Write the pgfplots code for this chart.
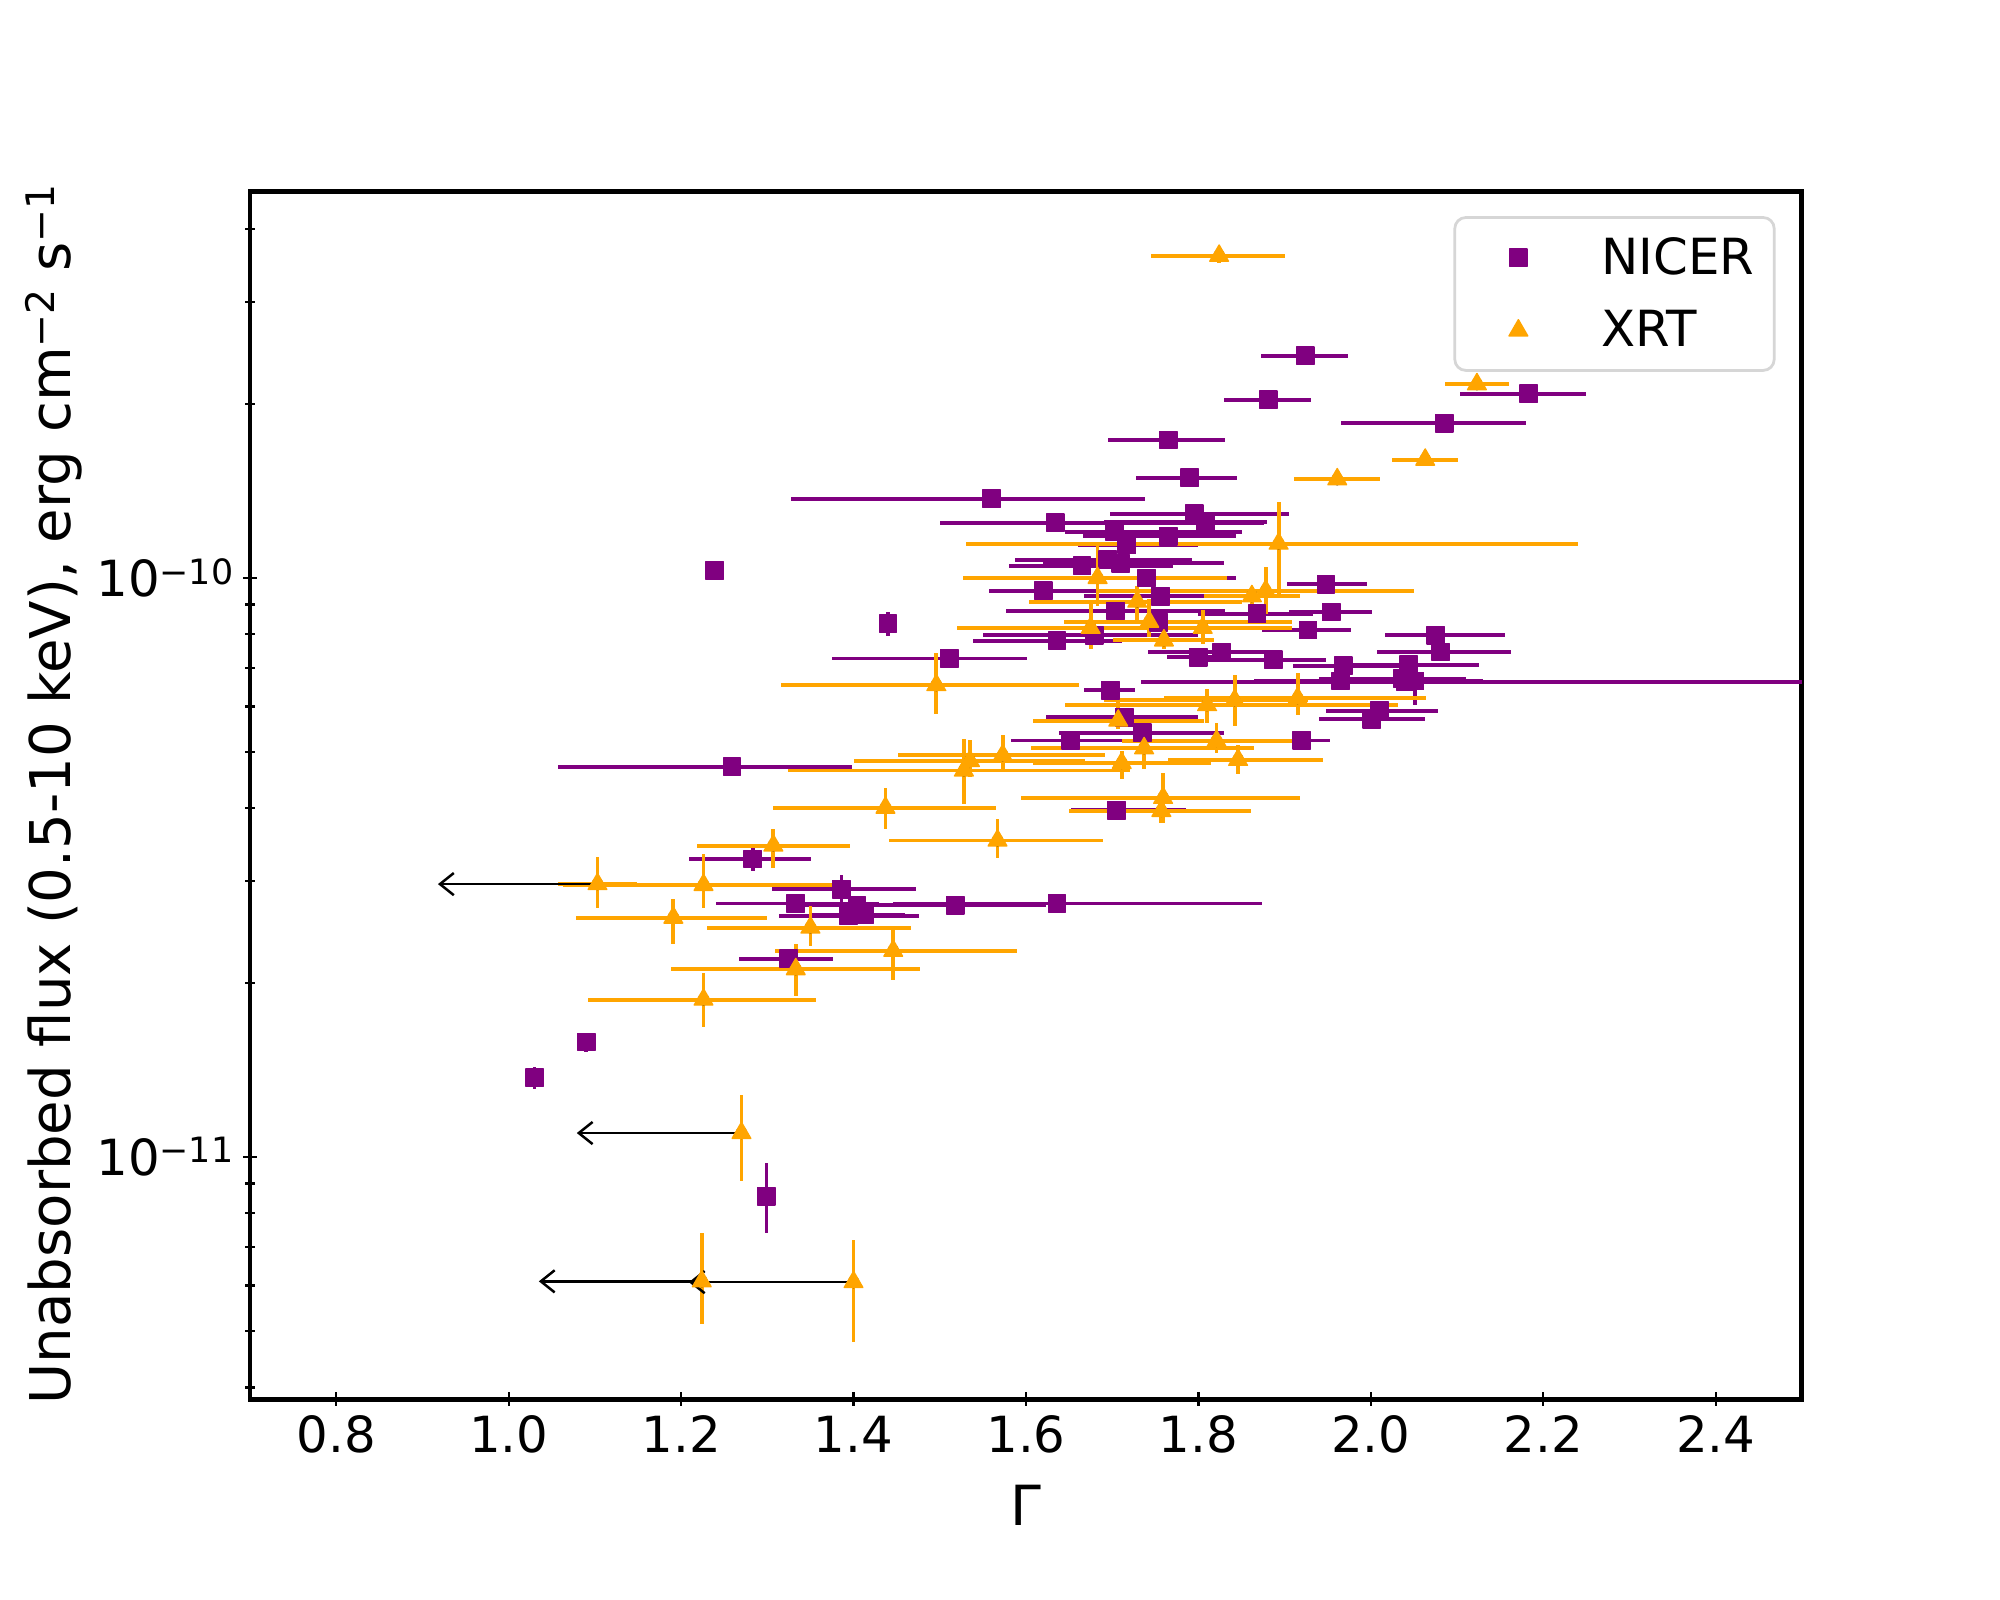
\documentclass[border=0pt]{standalone}
\usepackage{fontspec}
\setmainfont{DejaVu Sans}
\usepackage{pgfplots}
\pgfplotsset{compat=1.18}
\usepackage{pgfplotstable}
\usetikzlibrary{arrows.meta}
\definecolor{mpurple}{HTML}{800080}
\definecolor{morange}{HTML}{FFA500}
\newcommand{\sups}[1]{\raisebox{4.6pt}{\fontsize{12.6}{12.6}\selectfont #1}}
\newcommand{\lsups}[1]{\raisebox{5.7pt}{\fontsize{14.2}{14.2}\selectfont #1}}

\pgfplotstableread{
x y xm xp ym yp
1.239 1.03e-10 0.005 0.005 0.03e-10 0.03e-10
1.560 1.37e-10 0.232 0.178 0.04e-10 0.04e-10
1.765 1.73e-10 0.070 0.066 0.05e-10 0.05e-10
1.790 1.49e-10 0.062 0.055 0.045e-10 0.045e-10
1.881 2.03e-10 0.051 0.050 0.06e-10 0.06e-10
1.924 2.42e-10 0.052 0.050 0.07e-10 0.07e-10
2.085 1.85e-10 0.120 0.095 0.055e-10 0.055e-10
2.183 2.08e-10 0.080 0.066 0.06e-10 0.06e-10
1.634 1.245e-10 0.134 0.242 0.04e-10 0.04e-10
1.795 1.29e-10 0.097 0.110 0.04e-10 0.04e-10
1.808 1.25e-10 0.118 0.072 0.04e-10 0.04e-10
1.765 1.18e-10 0.099 0.079 0.035e-10 0.035e-10
1.703 1.20e-10 0.058 0.147 0.035e-10 0.035e-10
1.717 1.14e-10 0.057 0.083 0.035e-10 0.035e-10
1.695 1.075e-10 0.108 0.098 0.03e-10 0.03e-10
1.665 1.05e-10 0.085 0.105 0.03e-10 0.03e-10
1.710 1.06e-10 0.090 0.120 0.03e-10 0.03e-10
1.740 1.00e-10 0.095 0.104 0.03e-10 0.03e-10
1.620 9.5e-11 0.063 0.126 0.3e-11 0.3e-11
1.756 9.3e-11 0.089 0.092 0.3e-11 0.3e-11
1.948 9.75e-11 0.045 0.048 0.3e-11 0.3e-11
1.704 8.77e-11 0.127 0.127 0.26e-11 0.26e-11
1.754 8.38e-11 0.091 0.069 0.25e-11 0.25e-11
1.868 8.67e-11 0.068 0.065 0.26e-11 0.26e-11
1.954 8.73e-11 0.049 0.047 0.26e-11 0.26e-11
1.927 8.13e-11 0.053 0.050 0.24e-11 0.24e-11
1.679 7.96e-11 0.129 0.121 0.24e-11 0.24e-11
1.636 7.79e-11 0.098 0.075 0.23e-11 0.23e-11
2.075 7.96e-11 0.059 0.080 0.24e-11 0.24e-11
2.081 7.45e-11 0.074 0.081 0.22e-11 0.22e-11
1.440 8.34e-11 0.004 0.004 0.40e-11 0.40e-11
1.511 7.26e-11 0.136 0.090 0.22e-11 0.22e-11
1.800 7.30e-11 0.037 0.022 0.22e-11 0.22e-11
1.827 7.45e-11 0.086 0.062 0.22e-11 0.22e-11
1.887 7.22e-11 0.079 0.061 0.22e-11 0.22e-11
1.968 7.05e-11 0.058 0.072 0.21e-11 0.21e-11
2.044 7.08e-11 0.074 0.081 0.21e-11 0.21e-11
1.965 6.64e-11 0.100 0.103 0.20e-11 0.20e-11
2.036 6.70e-11 0.096 0.074 0.20e-11 0.20e-11
2.051 6.64e-11 0.071 0.079 0.60e-11 0.20e-11
1.698 6.40e-11 0.031 0.028 0.19e-11 0.19e-11
2.040 6.62e-11 0.307 0.610 0.20e-11 0.20e-11
2.010 5.90e-11 0.062 0.068 0.18e-11 0.18e-11
2.001 5.70e-11 0.061 0.062 0.17e-11 0.17e-11
1.714 5.75e-11 0.091 0.086 0.17e-11 0.17e-11
1.652 5.24e-11 0.069 0.141 0.16e-11 0.16e-11
1.735 5.40e-11 0.097 0.095 0.25e-11 0.25e-11
1.920 5.24e-11 0.053 0.033 0.16e-11 0.16e-11
1.705 3.97e-11 0.053 0.080 0.12e-11 0.12e-11
1.259 4.72e-11 0.202 0.139 0.14e-11 0.14e-11
1.283 3.27e-11 0.074 0.068 0.15e-11 0.15e-11
1.386 2.90e-11 0.081 0.086 0.17e-11 0.17e-11
1.333 2.74e-11 0.093 0.097 0.08e-11 0.08e-11
1.404 2.72e-11 0.080 0.100 0.08e-11 0.08e-11
1.394 2.61e-11 0.081 0.082 0.08e-11 0.08e-11
1.413 2.62e-11 0.063 0.047 0.08e-11 0.08e-11
1.518 2.72e-11 0.161 0.105 0.08e-11 0.08e-11
1.636 2.74e-11 0.190 0.238 0.10e-11 0.10e-11
1.325 2.20e-11 0.058 0.051 0.07e-11 0.07e-11
1.090 1.58e-11 0.005 0.005 0.06e-11 0.06e-11
1.030 1.37e-11 0.005 0.005 0.06e-11 0.06e-11
1.299 8.55e-12 0.002 0.002 1.15e-12 1.20e-12
}\nicer

\pgfplotstableread{
x y xm xp ym yp
1.824 3.60e-10 0.079 0.076 0.10e-10 0.10e-10
2.123 2.16e-10 0.037 0.037 0.05e-10 0.05e-10
2.063 1.60e-10 0.039 0.038 0.04e-10 0.04e-10
1.961 1.48e-10 0.050 0.050 0.035e-10 0.035e-10
1.893 1.146e-10 0.363 0.347 0.219e-10 0.209e-10
1.683 1.00e-10 0.156 0.150 0.105e-10 0.153e-10
1.878 9.5e-11 0.195 0.172 0.83e-11 0.95e-11
1.862 9.3e-11 0.056 0.056 0.3e-11 0.3e-11
1.675 8.2e-11 0.155 0.165 0.65e-11 0.8e-11
1.805 8.2e-11 0.108 0.104 0.5e-11 0.6e-11
1.743 8.4e-11 0.099 0.166 0.5e-11 0.8e-11
1.729 9.1e-11 0.125 0.121 0.7e-11 0.6e-11
1.760 7.8e-11 0.059 0.058 0.25e-11 0.25e-11
1.496 6.53e-11 0.180 0.166 0.72e-11 0.88e-11
1.810 6.03e-11 0.165 0.221 0.42e-11 0.39e-11
1.842 6.15e-11 0.151 0.085 0.60e-11 0.66e-11
1.915 6.2e-11 0.155 0.149 0.40e-11 0.64e-11
1.707 5.67e-11 0.099 0.099 0.19e-11 0.43e-11
1.821 5.23e-11 0.110 0.105 0.24e-11 0.38e-11
1.737 5.08e-11 0.131 0.127 0.40e-11 0.32e-11
1.846 4.85e-11 0.081 0.099 0.26e-11 0.29e-11
1.711 4.79e-11 0.103 0.103 0.29e-11 0.24e-11
1.573 4.94e-11 0.122 0.119 0.30e-11 0.42e-11
1.535 4.83e-11 0.135 0.133 0.30e-11 0.42e-11
1.528 4.65e-11 0.204 0.193 0.58e-11 0.62e-11
1.759 4.17e-11 0.165 0.159 0.40e-11 0.43e-11
1.757 3.96e-11 0.107 0.104 0.19e-11 0.17e-11
1.437 4.01e-11 0.130 0.128 0.32e-11 0.33e-11
1.567 3.52e-11 0.126 0.122 0.23e-11 0.32e-11
1.307 3.45e-11 0.088 0.089 0.29e-11 0.23e-11
1.103 2.96e-11 0.046 0.046 0.27e-11 0.34e-11
1.226 2.95e-11 0.163 0.163 0.26e-11 0.38e-11
1.191 2.59e-11 0.113 0.109 0.26e-11 0.20e-11
1.350 2.49e-11 0.120 0.117 0.18e-11 0.22e-11
1.446 2.27e-11 0.137 0.144 0.25e-11 0.22e-11
1.333 2.11e-11 0.145 0.144 0.21e-11 0.22e-11
1.226 1.87e-11 0.134 0.131 0.19e-11 0.21e-11
1.270 1.10e-11 0 0 0.19e-11 0.18e-11
1.224 6.1e-12 0 0 0.96e-12 1.28e-12
1.400 6.08e-12 0 0 1.28e-12 1.12e-12
}\xrt

\begin{document}
\begin{tikzpicture}
\path[use as bounding box] (0,0) rectangle (25.4cm,20.32cm);
\begin{axis}[
  at={(3.175cm,2.553cm)}, anchor=south west,
  width=19.71cm, height=15.33cm, scale only axis,
  xmin=0.7, xmax=2.5,
  ymode=log, log basis y=10, ymin=3.82e-12, ymax=4.64e-10,
  xtick={0.8,1.0,1.2,1.4,1.6,1.8,2.0,2.2,2.4},
  xticklabels={0.8,1.0,1.2,1.4,1.6,1.8,2.0,2.2,2.4},
  ytick={1e-11,1e-10},
  yticklabels={10\sups{−11},10\sups{−10}},
  minor ytick={4e-12,5e-12,6e-12,7e-12,8e-12,9e-12,2e-11,3e-11,4e-11,5e-11,6e-11,7e-11,8e-11,9e-11,2e-10,3e-10,4e-10},
  tick pos=left, tick align=center,
  major tick length=5pt, minor tick length=3.5pt,
  tick style={black, line width=0.8pt},
  axis line style={line width=1.8pt},
  tick label style={font=\fontsize{18}{21.6}\selectfont},
  xlabel={Γ},
  ylabel={Unabsorbed flux (0.5-10 keV), erg cm\lsups{−2} s\lsups{−1}},
  every axis x label/.style={at={(axis description cs:0.5,-0.0881)}, anchor=center,
    font=\fontsize{20}{24}\selectfont},
  every axis y label/.style={at={(axis description cs:-0.1265,0.501)}, anchor=center, rotate=90,
    font=\fontsize{20.3}{24}\selectfont},
  legend style={at={(0.983,0.980)}, anchor=north east, draw=black!16, line width=1pt,
    rounded corners=4pt, fill=white, font=\fontsize{18}{21.6}\selectfont,
    inner xsep=0.18cm, inner ysep=0.18cm, row sep=0.265cm, cells={anchor=west}},
  legend image code/.code={\path (0cm,-0.2cm) (1.58cm,0.2cm);
    \draw[mark repeat=2,mark phase=2,#1] plot coordinates {(0.3cm,0cm)(0.61cm,0cm)(0.9cm,0cm)};},
]
\addplot[only marks, mark=none, forget plot,
  error bars/.cd, x dir=both, x explicit, y dir=both, y explicit, error mark=none,
  error bar style={line width=1.4pt, color=mpurple}]
  table[x=x, y=y, x error minus=xm, x error plus=xp, y error minus=ym, y error plus=yp] {\nicer};
\addplot[only marks, mark=none, forget plot,
  error bars/.cd, x dir=both, x explicit, y dir=both, y explicit, error mark=none,
  error bar style={line width=1.4pt, color=morange}]
  table[x=x, y=y, x error minus=xm, x error plus=xp, y error minus=ym, y error plus=yp] {\xrt};
\addplot[only marks, mark=square*, mark size=3.15pt, color=mpurple,
  mark options={line width=0.5pt, line join=round}] table[x=x, y=y] {\nicer};
\addlegendentry{NICER}
\addplot[only marks, mark=triangle*, mark size=3.9pt, color=morange,
  mark options={line width=0.5pt, line join=round}] table[x=x, y=y] {\xrt};
\addlegendentry{XRT}
\addplot[black, line width=0.9pt, -{Straight Barb[length=5pt,width=8pt]}, forget plot]
  coordinates {(1.103,2.96e-11) (0.918,2.96e-11)};
\addplot[black, line width=0.9pt, -{Straight Barb[length=5pt,width=8pt]}, forget plot]
  coordinates {(1.265,1.10e-11) (1.079,1.10e-11)};
\addplot[black, line width=0.9pt, -{Straight Barb[length=5pt,width=8pt]}, forget plot]
  coordinates {(1.219,6.1e-12) (1.035,6.1e-12)};
\addplot[black, line width=0.9pt, -{Straight Barb[length=5pt,width=8pt]}, forget plot]
  coordinates {(1.395,6.08e-12) (1.209,6.08e-12)};
\end{axis}
\end{tikzpicture}
\end{document}
